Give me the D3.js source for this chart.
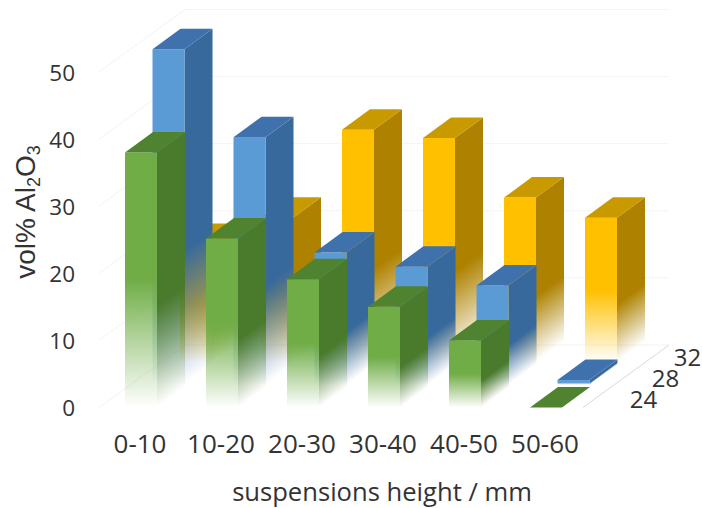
<!DOCTYPE html>
<html>
<head>
<meta charset="utf-8">
<script src="https://cdn.jsdelivr.net/npm/d3@7/dist/d3.min.js"></script>
<style>
  html, body { margin: 0; padding: 0; background: #fff; }
  svg { display: block; }
  text { fill: #333; }
</style>
</head>
<body>
<svg id="chart" width="702" height="508"></svg>
<script>
// Alumina content by suspension height, one series per solids loading
const categories = ["0-10", "10-20", "20-30", "30-40", "40-50", "50-60"];
const depths = [24, 28, 32];
const values24 = [38, 25.2, 19.1, 15, 10, 0];
const values28 = [50, 36.9, 19.7, 17.6, 14.8, 0.7];
const values32 = [17.6, 21.5, 34.6, 33.4, 24.5, 21.5];
const yTicks = [0, 10, 20, 30, 40, 50];

const frontColors = ["#70ad47", "#5b9bd5", "#ffc000"];
const topColors = ["#4f8330", "#3f72ad", "#c99a00"];
const sideColors = ["#4a7a2c", "#37699c", "#ae8200"];
const seriesValues = [values24, values28, values32];

const svg = d3.select("#chart");
const defs = svg.append("defs");

// Front-plane scales
const y = d3.scaleLinear().domain([0, 50]).range([407.5, 72]);
const x = d3.scaleBand().domain(categories)
  .range([125, 562]).paddingInner(49 / 81).paddingOuter(0).align(0);

// Oblique projection: z runs 0..1 from the front series to the back one
const z = d3.scalePoint().domain(depths).range([0, 1]);
const depthDx = d3.scaleLinear().domain([0, 1]).range([0, 55]);
const depthDy = d3.scaleLinear().domain([0, 1]).range([0, -45.5]);
const barDepth = { dx: 28, dy: -20.5 };
const wall = { dx: 86, dy: -62.5 };

// Faint back wall and side wall gridlines
const grid = svg.append("g").attr("fill", "none");
const wallLeft = 99, wallRight = 583;
grid.selectAll("line.back").data(yTicks).join("line")
  .attr("class", "back")
  .attr("x1", wallLeft + wall.dx).attr("x2", wallRight + wall.dx)
  .attr("y1", d => y(d) + wall.dy).attr("y2", d => y(d) + wall.dy)
  .attr("stroke", "#f3f3f3");
grid.selectAll("line.left").data(yTicks).join("line")
  .attr("class", "left")
  .attr("x1", wallLeft).attr("x2", wallLeft + wall.dx)
  .attr("y1", d => y(d)).attr("y2", d => y(d) + wall.dy)
  .attr("stroke", "#f3f3f3");
grid.append("line")
  .attr("x1", wallRight).attr("x2", wallRight + wall.dx)
  .attr("y1", y(0)).attr("y2", y(0) + wall.dy)
  .attr("stroke", "#d9d9d9");

// A face stays solid over its upper part and dissolves toward its base.
// The gradient axis is normal to the face's lower edge.
function fadeGradient(id, color, solidUntil, x1, y1, x2, y2) {
  const g = defs.append("linearGradient").attr("id", id)
    .attr("gradientUnits", "userSpaceOnUse")
    .attr("x1", x1).attr("y1", y1).attr("x2", x2).attr("y2", y2);
  g.append("stop").attr("offset", 0).attr("stop-color", color);
  g.append("stop").attr("offset", solidUntil).attr("stop-color", color);
  g.append("stop").attr("offset", 1).attr("stop-color", color).attr("stop-opacity", 0);
  return `url(#${id})`;
}

const poly = pts => pts.map(p => p.map(n => n.toFixed(2)).join(",")).join(" ");

// Back series first so nearer bars cover the ones behind them
d3.range(depths.length - 1, -1, -1).forEach(si => {
  const t = z(depths[si]);
  const ox = depthDx(t), oy = depthDy(t);
  const layer = svg.append("g").attr("class", "series");
  const bars = categories.map((c, i) => ({ c, i, v: seriesValues[si][i] }));

  bars.forEach(b => {
    const xl = x(b.c) + ox, xr = xl + x.bandwidth();
    const yt = y(b.v) + oy, yb = y(0) + oy;
    const g = layer.append("g");

    if (yb - yt > 0.01) {
      // Side face
      const nx = -barDepth.dy, ny = barDepth.dx;
      const len = Math.hypot(nx, ny);
      const proj = (yb - yt) * ny / len;
      const sideFill = fadeGradient(`side-${si}-${b.i}`, sideColors[si], 0.6,
        xr, yt, xr + proj * nx / len, yt + proj * ny / len);
      g.append("polygon")
        .attr("points", poly([[xr, yb], [xr, yt],
          [xr + barDepth.dx, yt + barDepth.dy], [xr + barDepth.dx, yb + barDepth.dy]]))
        .attr("fill", sideFill);

      // Front face
      const frontFill = fadeGradient(`front-${si}-${b.i}`, frontColors[si], 0.5, xl, yt, xl, yb);
      g.append("rect")
        .attr("x", xl).attr("y", yt)
        .attr("width", x.bandwidth()).attr("height", yb - yt)
        .attr("fill", frontFill);
    }

    // Top face
    g.append("polygon")
      .attr("points", poly([[xl, yt], [xr, yt],
        [xr + barDepth.dx, yt + barDepth.dy], [xl + barDepth.dx, yt + barDepth.dy]]))
      .attr("fill", topColors[si]);
  });
});

// Axes
const labelFont = "'Open Sans', sans-serif";

const yAxis = svg.append("g")
  .attr("transform", "translate(75,0)")
  .call(d3.axisLeft(y).tickValues(yTicks).tickSize(0).tickPadding(0));
yAxis.select(".domain").remove();
yAxis.selectAll("text").attr("font-family", labelFont).attr("font-size", 22.5)
  .attr("fill", "#333").attr("dy", "0.36em");

const xAxis = svg.append("g")
  .attr("transform", "translate(-1,453)")
  .call(d3.axisBottom(x).tickSize(0).tickPadding(0));
xAxis.select(".domain").remove();
xAxis.selectAll("text").attr("font-family", labelFont).attr("font-size", 26)
  .attr("fill", "#333").attr("dy", 0);

// Depth axis labels along the floor's right edge
const depthLabelX = d3.scaleLinear().domain([0, 1]).range([643.5, 687.5]);
const depthLabelY = d3.scaleLinear().domain([0, 1]).range([408, 366]);
svg.append("g").selectAll("text").data(depths).join("text")
  .attr("x", d => depthLabelX(z(d)))
  .attr("y", d => depthLabelY(z(d)))
  .attr("text-anchor", "middle")
  .attr("font-family", labelFont).attr("font-size", 24)
  .text(d => d);

// Axis titles
svg.append("text")
  .attr("x", 382).attr("y", 501)
  .attr("text-anchor", "middle")
  .attr("font-family", labelFont).attr("font-size", 25.6)
  .text("suspensions height / mm");

const yTitle = svg.append("text")
  .attr("transform", "translate(35,212) rotate(-90)")
  .attr("text-anchor", "middle")
  .attr("font-family", "'Liberation Sans', sans-serif").attr("font-size", 28);
yTitle.append("tspan").text("vol% Al");
yTitle.append("tspan").attr("font-size", 18).attr("dy", 5).text("2");
yTitle.append("tspan").attr("dy", -5).text("O");
yTitle.append("tspan").attr("font-size", 18).attr("dy", 5).text("3");
</script>
</body>
</html>
